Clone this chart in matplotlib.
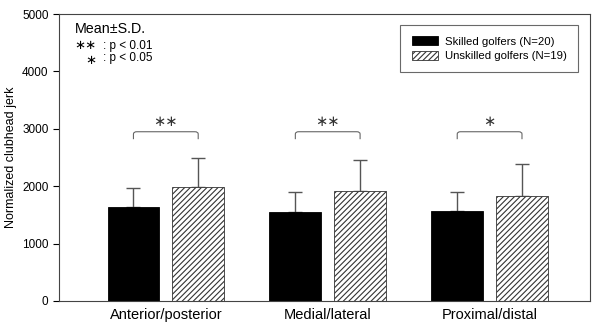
import numpy as np
import matplotlib
matplotlib.use('Agg')
import matplotlib.pyplot as plt
from matplotlib.path import Path
from matplotlib.patches import PathPatch

plt.rcParams['font.family'] = ['Liberation Sans', 'DejaVu Sans']
plt.rcParams['hatch.linewidth'] = 0.8
plt.rcParams['hatch.color'] = '#444444'

categories = ['Anterior/posterior', 'Medial/lateral', 'Proximal/distal']
skilled_mean = [1643, 1559, 1571]
skilled_sd = [334, 336, 324]
unskilled_mean = [1986, 1921, 1823]
unskilled_sd = [510, 535, 564]
sig_marks = ['∗∗', '∗∗', '∗']
yticks = [0, 1000, 2000, 3000, 4000, 5000]

fig = plt.figure(figsize=(6, 3.26), dpi=100)
ax = fig.add_axes([0.0983, 0.0767, 0.885, 0.88])

x = np.arange(len(categories))
w = 0.32
off = 0.2

ax.bar(x - off, skilled_mean, w, color='black', edgecolor='black', linewidth=0.6,
       label='Skilled golfers (N=20)', zorder=2)
ax.bar(x + off, unskilled_mean, w, color='white', edgecolor='#333333', linewidth=0.6,
       hatch='//////', label='Unskilled golfers (N=19)', zorder=2)

ax.errorbar(x - off, skilled_mean, yerr=[np.zeros(3), skilled_sd], fmt='none',
            ecolor='#555555', elinewidth=1, capsize=5, capthick=1, zorder=1)
ax.errorbar(x + off, unskilled_mean, yerr=[np.zeros(3), unskilled_sd], fmt='none',
            ecolor='#555555', elinewidth=1, capsize=5, capthick=1, zorder=1)

# significance brackets
for xi, mark in zip(x, sig_marks):
    x0, x1 = xi - off, xi + off
    y_top, y_leg, r = 2950, 2820, 0.02
    verts = [(x0, y_leg), (x0, y_top - 40), (x0, y_top), (x0 + r, y_top),
             (x1 - r, y_top), (x1, y_top), (x1, y_top - 40), (x1, y_leg)]
    codes = [Path.MOVETO, Path.LINETO, Path.CURVE3, Path.CURVE3,
             Path.LINETO, Path.CURVE3, Path.CURVE3, Path.LINETO]
    ax.add_patch(PathPatch(Path(verts, codes), fill=False, edgecolor='#666666', lw=0.8))
    ax.text(xi, 3120, mark, ha='center', va='center', fontsize=10.5,
            family=['DejaVu Sans'], color='#333333')

ax.set_xlim(-0.66, 2.62)
ax.set_ylim(0, 5000)
ax.set_yticks(yticks)
ax.tick_params(axis='y', direction='out', length=4, labelsize=8.5)
ax.set_xticks(x)
ax.set_xticklabels(categories, fontsize=10.5)
ax.tick_params(axis='x', length=0, pad=5)
ax.set_ylabel('Normalized clubhead jerk', fontsize=9)
for s in ax.spines.values():
    s.set_linewidth(0.8)
    s.set_color('#444444')

ax.text(0.03, 0.948, 'Mean±S.D.', transform=ax.transAxes, fontsize=10.3, va='center')
ax.text(0.028, 0.892, '∗∗', transform=ax.transAxes, fontsize=9.5, va='center',
        family=['DejaVu Sans'])
ax.text(0.083, 0.889, ': p < 0.01', transform=ax.transAxes, fontsize=8.5, va='center')
ax.text(0.05, 0.84, '∗', transform=ax.transAxes, fontsize=9.5, va='center',
        family=['DejaVu Sans'])
ax.text(0.083, 0.846, ': p < 0.05', transform=ax.transAxes, fontsize=8.5, va='center')

leg = ax.legend(loc='upper right', bbox_to_anchor=(0.9774, 0.9617), borderaxespad=0,
                fontsize=8.2, frameon=True, fancybox=False, edgecolor='#444444',
                handlelength=2.3, handleheight=0.8, handletextpad=0.6,
                borderpad=1.0, labelspacing=0.35)
leg.get_frame().set_linewidth(0.8)

fig.savefig('out.png', dpi=100)
